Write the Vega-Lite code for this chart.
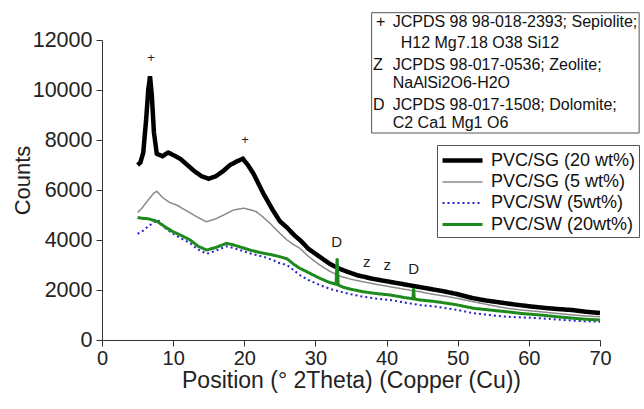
{
  "$schema": "https://vega.github.io/schema/vega-lite/v6.json",
  "width": 498,
  "height": 300,
  "autosize": {"type": "none"},
  "padding": {"left": 102, "top": 40, "right": 44, "bottom": 69},
  "background": "white",
  "config": {
    "view": {"stroke": null},
    "font": "Liberation Sans",
    "axis": {"grid": false, "domainColor": "#333", "tickColor": "#333", "labelColor": "#222", "titleColor": "#222", "labelFont": "Liberation Sans", "titleFont": "Liberation Sans", "titleFontWeight": "normal"}
  },
  "datasets": {
    "lines": [
      {"s":"PVC/SG (20 wt%)","x":5.0,"y":7000},{"s":"PVC/SG (20 wt%)","x":5.4,"y":7100},{"s":"PVC/SG (20 wt%)","x":5.8,"y":7500},{"s":"PVC/SG (20 wt%)","x":6.2,"y":8800},{"s":"PVC/SG (20 wt%)","x":6.5,"y":10000},{"s":"PVC/SG (20 wt%)","x":6.75,"y":10550},{"s":"PVC/SG (20 wt%)","x":7.0,"y":9800},{"s":"PVC/SG (20 wt%)","x":7.3,"y":8300},{"s":"PVC/SG (20 wt%)","x":7.7,"y":7450},{"s":"PVC/SG (20 wt%)","x":8.5,"y":7350},{"s":"PVC/SG (20 wt%)","x":9.3,"y":7500},{"s":"PVC/SG (20 wt%)","x":10,"y":7400},{"s":"PVC/SG (20 wt%)","x":11,"y":7250},{"s":"PVC/SG (20 wt%)","x":12,"y":7000},{"s":"PVC/SG (20 wt%)","x":13,"y":6750},{"s":"PVC/SG (20 wt%)","x":14,"y":6550},{"s":"PVC/SG (20 wt%)","x":15,"y":6450},{"s":"PVC/SG (20 wt%)","x":16,"y":6550},{"s":"PVC/SG (20 wt%)","x":17,"y":6750},{"s":"PVC/SG (20 wt%)","x":18,"y":7000},{"s":"PVC/SG (20 wt%)","x":19,"y":7150},{"s":"PVC/SG (20 wt%)","x":19.8,"y":7250},{"s":"PVC/SG (20 wt%)","x":20.5,"y":7000},{"s":"PVC/SG (20 wt%)","x":21.3,"y":6650},{"s":"PVC/SG (20 wt%)","x":22,"y":6250},{"s":"PVC/SG (20 wt%)","x":22.7,"y":5850},{"s":"PVC/SG (20 wt%)","x":24,"y":5200},{"s":"PVC/SG (20 wt%)","x":25,"y":4750},{"s":"PVC/SG (20 wt%)","x":26,"y":4500},{"s":"PVC/SG (20 wt%)","x":27,"y":4200},{"s":"PVC/SG (20 wt%)","x":28,"y":3950},{"s":"PVC/SG (20 wt%)","x":29,"y":3650},{"s":"PVC/SG (20 wt%)","x":30,"y":3450},{"s":"PVC/SG (20 wt%)","x":31,"y":3250},{"s":"PVC/SG (20 wt%)","x":32,"y":3050},{"s":"PVC/SG (20 wt%)","x":33,"y":2900},{"s":"PVC/SG (20 wt%)","x":34,"y":2780},{"s":"PVC/SG (20 wt%)","x":35,"y":2680},{"s":"PVC/SG (20 wt%)","x":36,"y":2580},{"s":"PVC/SG (20 wt%)","x":37,"y":2520},{"s":"PVC/SG (20 wt%)","x":38,"y":2450},{"s":"PVC/SG (20 wt%)","x":39,"y":2400},{"s":"PVC/SG (20 wt%)","x":40,"y":2350},{"s":"PVC/SG (20 wt%)","x":42,"y":2250},{"s":"PVC/SG (20 wt%)","x":44,"y":2150},{"s":"PVC/SG (20 wt%)","x":46,"y":2050},{"s":"PVC/SG (20 wt%)","x":48,"y":1950},{"s":"PVC/SG (20 wt%)","x":50,"y":1830},{"s":"PVC/SG (20 wt%)","x":52,"y":1680},{"s":"PVC/SG (20 wt%)","x":54,"y":1580},{"s":"PVC/SG (20 wt%)","x":56,"y":1500},{"s":"PVC/SG (20 wt%)","x":58,"y":1420},{"s":"PVC/SG (20 wt%)","x":60,"y":1350},{"s":"PVC/SG (20 wt%)","x":62,"y":1290},{"s":"PVC/SG (20 wt%)","x":64,"y":1240},{"s":"PVC/SG (20 wt%)","x":66,"y":1200},{"s":"PVC/SG (20 wt%)","x":68,"y":1130},{"s":"PVC/SG (20 wt%)","x":70,"y":1080},
      {"s":"PVC/SG (5 wt%)","x":5.0,"y":5100},{"s":"PVC/SG (5 wt%)","x":5.6,"y":5270},{"s":"PVC/SG (5 wt%)","x":6.5,"y":5600},{"s":"PVC/SG (5 wt%)","x":7.2,"y":5850},{"s":"PVC/SG (5 wt%)","x":7.7,"y":5950},{"s":"PVC/SG (5 wt%)","x":8.5,"y":5700},{"s":"PVC/SG (5 wt%)","x":9.5,"y":5500},{"s":"PVC/SG (5 wt%)","x":10.5,"y":5400},{"s":"PVC/SG (5 wt%)","x":12,"y":5150},{"s":"PVC/SG (5 wt%)","x":13.5,"y":4900},{"s":"PVC/SG (5 wt%)","x":14.7,"y":4730},{"s":"PVC/SG (5 wt%)","x":16,"y":4850},{"s":"PVC/SG (5 wt%)","x":17.1,"y":5000},{"s":"PVC/SG (5 wt%)","x":18.5,"y":5200},{"s":"PVC/SG (5 wt%)","x":19.9,"y":5270},{"s":"PVC/SG (5 wt%)","x":21,"y":5200},{"s":"PVC/SG (5 wt%)","x":21.7,"y":5130},{"s":"PVC/SG (5 wt%)","x":22.5,"y":4950},{"s":"PVC/SG (5 wt%)","x":23.6,"y":4670},{"s":"PVC/SG (5 wt%)","x":25,"y":4270},{"s":"PVC/SG (5 wt%)","x":26,"y":4000},{"s":"PVC/SG (5 wt%)","x":27,"y":3800},{"s":"PVC/SG (5 wt%)","x":27.8,"y":3670},{"s":"PVC/SG (5 wt%)","x":29,"y":3350},{"s":"PVC/SG (5 wt%)","x":30.6,"y":3000},{"s":"PVC/SG (5 wt%)","x":32,"y":2750},{"s":"PVC/SG (5 wt%)","x":33.5,"y":2550},{"s":"PVC/SG (5 wt%)","x":35,"y":2430},{"s":"PVC/SG (5 wt%)","x":36.7,"y":2330},{"s":"PVC/SG (5 wt%)","x":38.5,"y":2230},{"s":"PVC/SG (5 wt%)","x":40.5,"y":2130},{"s":"PVC/SG (5 wt%)","x":42.5,"y":2030},{"s":"PVC/SG (5 wt%)","x":44.7,"y":1930},{"s":"PVC/SG (5 wt%)","x":46.5,"y":1830},{"s":"PVC/SG (5 wt%)","x":48.5,"y":1740},{"s":"PVC/SG (5 wt%)","x":50,"y":1660},{"s":"PVC/SG (5 wt%)","x":52.2,"y":1530},{"s":"PVC/SG (5 wt%)","x":54.5,"y":1400},{"s":"PVC/SG (5 wt%)","x":56.9,"y":1270},{"s":"PVC/SG (5 wt%)","x":59,"y":1200},{"s":"PVC/SG (5 wt%)","x":61.6,"y":1130},{"s":"PVC/SG (5 wt%)","x":64,"y":1060},{"s":"PVC/SG (5 wt%)","x":66.3,"y":1000},{"s":"PVC/SG (5 wt%)","x":68,"y":960},{"s":"PVC/SG (5 wt%)","x":70,"y":930},
      {"s":"PVC/SW (5wt%)","x":5.0,"y":4250},{"s":"PVC/SW (5wt%)","x":5.6,"y":4330},{"s":"PVC/SW (5wt%)","x":6.5,"y":4550},{"s":"PVC/SW (5wt%)","x":7.3,"y":4700},{"s":"PVC/SW (5wt%)","x":7.9,"y":4800},{"s":"PVC/SW (5wt%)","x":9,"y":4450},{"s":"PVC/SW (5wt%)","x":10,"y":4250},{"s":"PVC/SW (5wt%)","x":11,"y":4080},{"s":"PVC/SW (5wt%)","x":12.4,"y":3870},{"s":"PVC/SW (5wt%)","x":13.5,"y":3620},{"s":"PVC/SW (5wt%)","x":14.7,"y":3450},{"s":"PVC/SW (5wt%)","x":16,"y":3570},{"s":"PVC/SW (5wt%)","x":17.5,"y":3750},{"s":"PVC/SW (5wt%)","x":18.5,"y":3680},{"s":"PVC/SW (5wt%)","x":19.9,"y":3550},{"s":"PVC/SW (5wt%)","x":21,"y":3450},{"s":"PVC/SW (5wt%)","x":22.7,"y":3330},{"s":"PVC/SW (5wt%)","x":24,"y":3200},{"s":"PVC/SW (5wt%)","x":25,"y":3070},{"s":"PVC/SW (5wt%)","x":26,"y":3000},{"s":"PVC/SW (5wt%)","x":27,"y":2780},{"s":"PVC/SW (5wt%)","x":27.8,"y":2600},{"s":"PVC/SW (5wt%)","x":29,"y":2400},{"s":"PVC/SW (5wt%)","x":30.6,"y":2200},{"s":"PVC/SW (5wt%)","x":32,"y":2050},{"s":"PVC/SW (5wt%)","x":33.5,"y":1930},{"s":"PVC/SW (5wt%)","x":35,"y":1830},{"s":"PVC/SW (5wt%)","x":36.7,"y":1730},{"s":"PVC/SW (5wt%)","x":38.5,"y":1660},{"s":"PVC/SW (5wt%)","x":40.5,"y":1600},{"s":"PVC/SW (5wt%)","x":42.5,"y":1500},{"s":"PVC/SW (5wt%)","x":44.7,"y":1400},{"s":"PVC/SW (5wt%)","x":46.5,"y":1350},{"s":"PVC/SW (5wt%)","x":48.5,"y":1270},{"s":"PVC/SW (5wt%)","x":50,"y":1200},{"s":"PVC/SW (5wt%)","x":52.2,"y":1070},{"s":"PVC/SW (5wt%)","x":54.5,"y":1000},{"s":"PVC/SW (5wt%)","x":56.9,"y":930},{"s":"PVC/SW (5wt%)","x":59,"y":900},{"s":"PVC/SW (5wt%)","x":61.6,"y":870},{"s":"PVC/SW (5wt%)","x":64,"y":820},{"s":"PVC/SW (5wt%)","x":66.3,"y":770},{"s":"PVC/SW (5wt%)","x":68,"y":750},{"s":"PVC/SW (5wt%)","x":70,"y":730},
      {"s":"PVC/SW (20wt%)","x":5.0,"y":4900},{"s":"PVC/SW (20wt%)","x":5.6,"y":4870},{"s":"PVC/SW (20wt%)","x":6.5,"y":4850},{"s":"PVC/SW (20wt%)","x":7.7,"y":4750},{"s":"PVC/SW (20wt%)","x":9,"y":4500},{"s":"PVC/SW (20wt%)","x":10,"y":4330},{"s":"PVC/SW (20wt%)","x":11,"y":4200},{"s":"PVC/SW (20wt%)","x":12.4,"y":4000},{"s":"PVC/SW (20wt%)","x":13.5,"y":3750},{"s":"PVC/SW (20wt%)","x":14.7,"y":3600},{"s":"PVC/SW (20wt%)","x":16,"y":3700},{"s":"PVC/SW (20wt%)","x":17.5,"y":3870},{"s":"PVC/SW (20wt%)","x":18.5,"y":3800},{"s":"PVC/SW (20wt%)","x":19.9,"y":3680},{"s":"PVC/SW (20wt%)","x":21,"y":3580},{"s":"PVC/SW (20wt%)","x":22.7,"y":3470},{"s":"PVC/SW (20wt%)","x":24,"y":3400},{"s":"PVC/SW (20wt%)","x":25,"y":3330},{"s":"PVC/SW (20wt%)","x":26,"y":3250},{"s":"PVC/SW (20wt%)","x":27,"y":3020},{"s":"PVC/SW (20wt%)","x":27.8,"y":2870},{"s":"PVC/SW (20wt%)","x":29,"y":2700},{"s":"PVC/SW (20wt%)","x":30.6,"y":2470},{"s":"PVC/SW (20wt%)","x":32,"y":2300},{"s":"PVC/SW (20wt%)","x":32.9,"y":2230},{"s":"PVC/SW (20wt%)","x":33.05,"y":3270},{"s":"PVC/SW (20wt%)","x":33.2,"y":2200},{"s":"PVC/SW (20wt%)","x":34,"y":2100},{"s":"PVC/SW (20wt%)","x":35,"y":2030},{"s":"PVC/SW (20wt%)","x":36.7,"y":1930},{"s":"PVC/SW (20wt%)","x":38.5,"y":1860},{"s":"PVC/SW (20wt%)","x":40.5,"y":1800},{"s":"PVC/SW (20wt%)","x":42.5,"y":1700},{"s":"PVC/SW (20wt%)","x":43.7,"y":1650},{"s":"PVC/SW (20wt%)","x":43.8,"y":2080},{"s":"PVC/SW (20wt%)","x":43.9,"y":1640},{"s":"PVC/SW (20wt%)","x":44.7,"y":1600},{"s":"PVC/SW (20wt%)","x":46.5,"y":1550},{"s":"PVC/SW (20wt%)","x":48.5,"y":1470},{"s":"PVC/SW (20wt%)","x":50,"y":1400},{"s":"PVC/SW (20wt%)","x":52.2,"y":1270},{"s":"PVC/SW (20wt%)","x":54.5,"y":1200},{"s":"PVC/SW (20wt%)","x":56.9,"y":1130},{"s":"PVC/SW (20wt%)","x":59,"y":1060},{"s":"PVC/SW (20wt%)","x":61.6,"y":1000},{"s":"PVC/SW (20wt%)","x":64,"y":930},{"s":"PVC/SW (20wt%)","x":66.3,"y":870},{"s":"PVC/SW (20wt%)","x":68,"y":830},{"s":"PVC/SW (20wt%)","x":70,"y":800}
    ],
    "marks": [
      {"t":"+","x":6.9,"y":11270,"fs":13},
      {"t":"+","x":20.1,"y":8000,"fs":13},
      {"t":"D","x":33.0,"y":3930,"fs":15},
      {"t":"z","x":37.2,"y":3130,"fs":15},
      {"t":"z","x":40.1,"y":3000,"fs":15},
      {"t":"D","x":43.8,"y":2830,"fs":15}
    ],
    "box": [{"x1":37.9,"x2":75.5,"y1":13092,"y2":8280}],
    "boxtext": [
      {"t":"+","x":38.5,"y":12732},
      {"t":"JCPDS 98 98-018-2393; Sepiolite;","x":40.86,"y":12732},
      {"t":"H12 Mg7.18 O38 Si12","x":41.99,"y":11868},
      {"t":"Z","x":38.1,"y":11000},
      {"t":"JCPDS 98-017-0536; Zeolite;","x":40.86,"y":11000},
      {"t":"NaAlSi2O6-H2O","x":40.86,"y":10268},
      {"t":"D","x":38.1,"y":9400},
      {"t":"JCPDS 98-017-1508; Dolomite;","x":40.86,"y":9400},
      {"t":"C2 Ca1 Mg1 O6","x":40.86,"y":8668}
    ]
  },
  "layer": [
    {
      "data": {"name": "lines"},
      "mark": {"type": "line", "clip": true},
      "encoding": {
        "x": {"field": "x", "type": "quantitative", "scale": {"domain": [0, 70], "nice": false},
          "axis": {"values": [0,5,10,15,20,25,30,35,40,45,50,55,60,65,70], "labelExpr": "datum.value % 10 === 0 ? datum.label : ''",
            "tickSize": {"condition": {"test": "datum.value % 10 === 0", "value": 6}, "value": 3},
            "labelFontSize": 20, "labelPadding": 2, "labelFlush": false, "labelOverlap": false,
            "title": "Position (° 2Theta) (Copper (Cu))", "titleFontSize": 23, "titleY": 47, "titleBaseline": "alphabetic"}},
        "y": {"field": "y", "type": "quantitative", "scale": {"domain": [0, 12000], "nice": false},
          "axis": {"values": [0,1000,2000,3000,4000,5000,6000,7000,8000,9000,10000,11000,12000], "labelExpr": "datum.value % 2000 === 0 ? datum.value : ''",
            "tickSize": {"condition": {"test": "datum.value % 2000 === 0", "value": 6}, "value": 3},
            "labelFontSize": 21.5, "labelPadding": 4, "labelFlush": false, "labelOverlap": false,
            "title": "Counts", "titleFontSize": 22, "titleX": -80, "titleY": 140, "titleBaseline": "middle", "titleAngle": -90}},
        "color": {"field": "s", "type": "ordinal",
          "scale": {"type": "ordinal", "domain": ["PVC/SG (20 wt%)","PVC/SG (5 wt%)","PVC/SW (5wt%)","PVC/SW (20wt%)"], "range": ["#000000","#8a8a8a","#2424c8","#1e8a1e"]},
          "legend": {"title": null, "orient": "none", "legendX": 335, "legendY": 105, "fillColor": "white", "strokeColor": "#555", "padding": 3,
            "labelFontSize": 18, "labelColor": "#111", "symbolType": "M-1,0H3", "symbolSize": 400, "labelOffset": 26, "rowPadding": 1}},
        "strokeDash": {"field": "s", "type": "ordinal",
          "scale": {"type": "ordinal", "domain": ["PVC/SG (20 wt%)","PVC/SG (5 wt%)","PVC/SW (5wt%)","PVC/SW (20wt%)"], "range": [[1,0],[1,0],[2,3],[1,0]]}},
        "strokeWidth": {"field": "s", "type": "ordinal",
          "scale": {"type": "ordinal", "domain": ["PVC/SG (20 wt%)","PVC/SG (5 wt%)","PVC/SW (5wt%)","PVC/SW (20wt%)"], "range": [4.5,1.5,2,3]}}
      }
    },
    {
      "data": {"name": "marks"},
      "mark": {"type": "text", "font": "Liberation Sans", "fill": "#222", "baseline": "middle", "align": "center"},
      "encoding": {
        "x": {"field": "x", "type": "quantitative"},
        "y": {"field": "y", "type": "quantitative"},
        "text": {"field": "t"},
        "size": {"field": "fs", "type": "quantitative", "scale": null, "legend": null}
      }
    },
    {
      "data": {"name": "box"},
      "mark": {"type": "rect", "fill": "white", "stroke": "#555", "strokeWidth": 1},
      "encoding": {
        "x": {"field": "x1", "type": "quantitative"},
        "x2": {"field": "x2"},
        "y": {"field": "y1", "type": "quantitative"},
        "y2": {"field": "y2"}
      }
    },
    {
      "data": {"name": "boxtext"},
      "mark": {"type": "text", "font": "Liberation Sans", "fontSize": 16, "fill": "#111", "align": "left", "baseline": "middle"},
      "encoding": {
        "x": {"field": "x", "type": "quantitative"},
        "y": {"field": "y", "type": "quantitative"},
        "text": {"field": "t"}
      }
    }
  ]
}
